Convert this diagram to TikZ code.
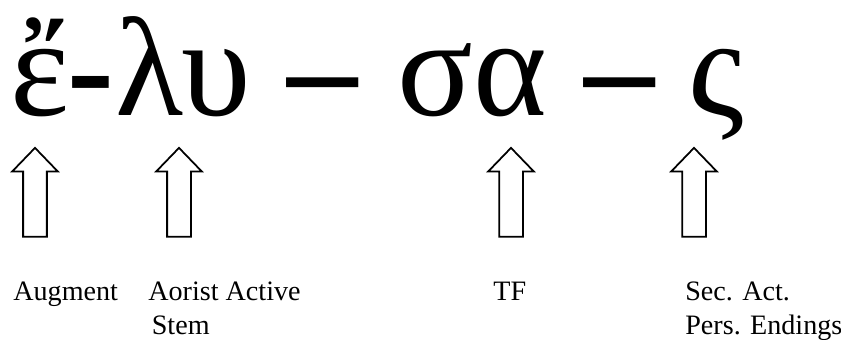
\documentclass[tikz,border=0pt]{standalone}
\usepackage{fontspec}
\setmainfont{Liberation Serif}
\usetikzlibrary{shapes.arrows}

\begin{document}
\begin{tikzpicture}[x=0.02cm,y=-0.02cm,
   greek/.style={anchor=base,inner sep=0pt,font=\fontsize{80}{90}\selectfont},
   dashmark/.style={greek,font=\fontsize{80}{90}\selectfont\bfseries},
   uparrow/.style={draw,line width=1pt,single arrow,rotate=90,inner xsep=0pt,inner ysep=0.22cm,
      single arrow head extend=0.22cm,single arrow tip angle=88,minimum height=1.78cm},
   label/.style={anchor=base west,inner sep=0pt,align=left,font=\fontsize{16}{19.3}\selectfont}]

   \useasboundingbox (0,0) rectangle (841,339);

   % the verb form
   \node[greek] (aug) at (40,115) {ἔ};
   \node[dashmark] (d1) at (91,115) {-};
   \node[greek] (stem) at (183,115) {λυ};
   \node[dashmark] (d2) at (323,115) {–};
   \node[greek] (tf) at (472,115) {σα};
   \node[dashmark] (d3) at (620,115) {–};
   \node[greek] (end) at (716,115) {ς};

   % arrows
   \node[uparrow] (a1) at (35,198.5) {};
   \node[uparrow] (a2) at (179,198.5) {};
   \node[uparrow] (a3) at (511,198.5) {};
   \node[uparrow] (a4) at (694,198.5) {};

   % labels (base of a two-line label is its last line)
   \node[label] (l1) at (13,300) {Augment};
   \node[label] (l2) at (148,334) {Aorist Active\\\hspace*{2pt}Stem};
   \node[label] (l3) at (493,300) {TF};
   \node[label] (l4) at (685,334) {Sec. Act.\\Pers. Endings};
\end{tikzpicture}
\end{document}
